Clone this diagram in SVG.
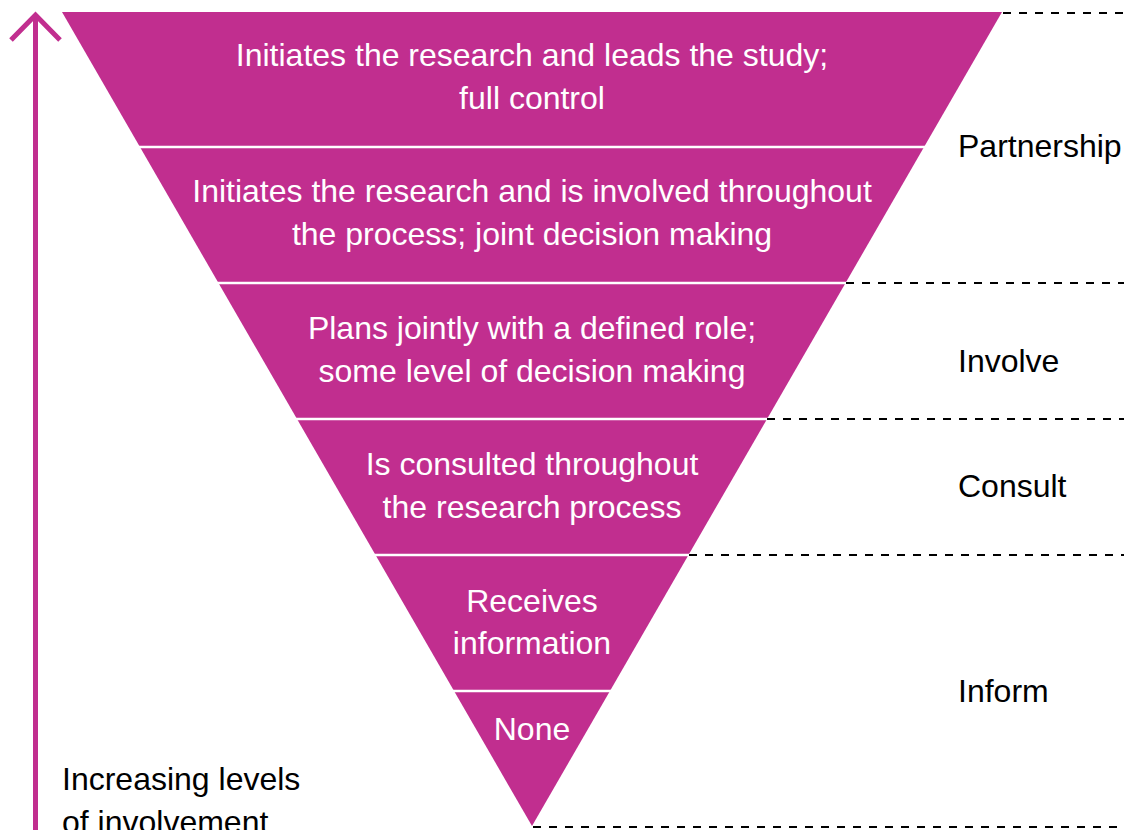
<svg xmlns="http://www.w3.org/2000/svg" width="1124" height="830" viewBox="0 0 1124 830">
<style>
.band{fill:#C12E8F}
.sep{stroke:#fff;stroke-width:2.5}
.t{font-family:"Liberation Sans",Arial,sans-serif;font-size:32px;fill:#fff;text-anchor:middle}
.lbl{font-family:"Liberation Sans",Arial,sans-serif;font-size:32px;fill:#000}
.dash{stroke:#000;stroke-width:2;stroke-dasharray:8 8;fill:none}
.arrow{stroke:#C12E8F;stroke-width:5;fill:none;stroke-linecap:butt}
</style>
<g id="pyramid">
<polygon class="band" points="62,12 1002,12 532,826"/>
</g>
<g id="separators">
<line class="sep" x1="130" y1="147" x2="935" y2="147"/>
<line class="sep" x1="210" y1="283" x2="855" y2="283"/>
<line class="sep" x1="290" y1="419" x2="775" y2="419"/>
<line class="sep" x1="370" y1="555" x2="695" y2="555"/>
<line class="sep" x1="450" y1="691" x2="615" y2="691"/>
</g>
<g id="level1"><text class="t" x="532" y="66">Initiates the research and leads the study;</text><text class="t" x="532" y="109">full control</text></g>
<g id="level2"><text class="t" x="532" y="202">Initiates the research and is involved throughout</text><text class="t" x="532" y="245">the process; joint decision making</text></g>
<g id="level3"><text class="t" x="532" y="339">Plans jointly with a defined role;</text><text class="t" x="532" y="382">some level of decision making</text></g>
<g id="level4"><text class="t" x="532" y="475">Is consulted throughout</text><text class="t" x="532" y="518">the research process</text></g>
<g id="level5"><text class="t" x="532" y="612">Receives</text><text class="t" x="532" y="654">information</text></g>
<g id="level6"><text class="t" x="532" y="740">None</text></g>
<g id="connectors">
<line class="dash" x1="1003" y1="13" x2="1124" y2="13"/>
<line class="dash" x1="846" y1="283" x2="1124" y2="283"/>
<line class="dash" x1="767" y1="419" x2="1124" y2="419"/>
<line class="dash" x1="689" y1="555" x2="1124" y2="555"/>
<line class="dash" x1="533" y1="827" x2="1124" y2="827"/>
</g>
<g id="labels">
<text class="lbl" x="958" y="157">Partnership</text>
<text class="lbl" x="958" y="372">Involve</text>
<text class="lbl" x="958" y="497">Consult</text>
<text class="lbl" x="958" y="702">Inform</text>
</g>
<g id="axis">
<line class="arrow" x1="35.5" y1="15" x2="35.5" y2="830"/>
<polyline class="arrow" points="11,40 35.5,15 60,40"/>
<text class="lbl" x="62" y="790">Increasing levels</text>
<text class="lbl" x="62" y="833">of involvement</text>
</g>
</svg>
